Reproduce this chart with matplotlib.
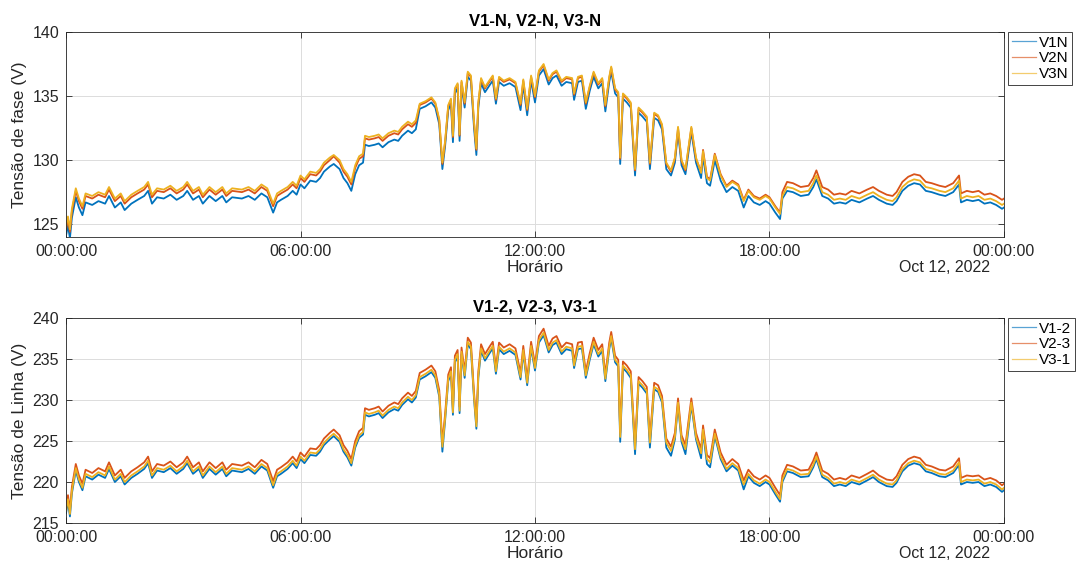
import matplotlib

matplotlib.use("Agg")
import matplotlib.pyplot as plt  # noqa: E402
from matplotlib.lines import Line2D  # noqa: E402

# Time of day in hours (Oct 12, 2022), shared by every trace.
hours = [
    0.00, 0.05, 0.10, 0.15, 0.25, 0.33, 0.42, 0.50, 0.67, 0.83,
    1.00, 1.10, 1.25, 1.40, 1.50, 1.67, 1.83, 2.00, 2.10, 2.20,
    2.33, 2.50, 2.67, 2.83, 3.00, 3.10, 3.25, 3.40, 3.50, 3.67,
    3.83, 4.00, 4.10, 4.25, 4.50, 4.67, 4.83, 5.00, 5.15, 5.30,
    5.40, 5.50, 5.67, 5.80, 5.90, 6.00, 6.10, 6.25, 6.40, 6.50,
    6.60, 6.75, 6.85, 7.00, 7.10, 7.20, 7.30, 7.40, 7.50, 7.60,
    7.65, 7.75, 7.90, 8.00, 8.10, 8.25, 8.40, 8.50, 8.60, 8.75,
    8.85, 8.95, 9.05, 9.20, 9.35, 9.45, 9.55, 9.63, 9.70, 9.78,
    9.85, 9.90, 9.95, 10.02, 10.07, 10.12, 10.20, 10.28, 10.36, 10.44,
    10.50, 10.55, 10.62, 10.72, 10.85, 10.92, 11.00, 11.08, 11.20, 11.35,
    11.50, 11.63, 11.70, 11.80, 11.90, 12.00, 12.10, 12.22, 12.35, 12.45,
    12.55, 12.68, 12.80, 12.95, 13.00, 13.10, 13.20, 13.30, 13.40, 13.50,
    13.62, 13.72, 13.80, 13.90, 13.95, 14.05, 14.13, 14.18, 14.25, 14.35,
    14.45, 14.56, 14.65, 14.75, 14.86, 14.94, 15.05, 15.15, 15.25, 15.36,
    15.48, 15.58, 15.66, 15.75, 15.85, 16.00, 16.12, 16.25, 16.30, 16.40,
    16.48, 16.60, 16.75, 16.90, 17.05, 17.20, 17.34, 17.46, 17.60, 17.75,
    17.90, 18.00, 18.15, 18.27, 18.33, 18.45, 18.60, 18.80, 19.00, 19.12,
    19.20, 19.35, 19.50, 19.65, 19.80, 19.95, 20.10, 20.30, 20.50, 20.65,
    20.80, 21.00, 21.15, 21.25, 21.40, 21.55, 21.70, 21.85, 22.00, 22.15,
    22.35, 22.50, 22.70, 22.85, 22.90, 23.05, 23.20, 23.35, 23.50, 23.65,
    23.80, 23.95, 24.00,
]

# Phase-to-neutral voltages (V)
v1n = [
    124.1, 124.9, 123.9, 125.5, 127.1, 126.3, 125.7, 126.7, 126.5, 126.8,
    126.6, 127.2, 126.3, 126.7, 126.1, 126.6, 126.9, 127.2, 127.6, 126.6,
    127.1, 127.0, 127.3, 126.9, 127.2, 127.6, 126.9, 127.2, 126.6, 127.2,
    126.8, 127.2, 126.7, 127.1, 127.0, 127.2, 126.9, 127.4, 127.1, 125.9,
    126.7, 126.9, 127.2, 127.6, 127.3, 128.1, 127.8, 128.4, 128.3, 128.6,
    129.1, 129.5, 129.7, 129.3, 128.6, 128.2, 127.6, 128.9, 129.6, 129.8,
    131.2, 131.1, 131.2, 131.3, 131.0, 131.4, 131.6, 131.5, 131.9, 132.3,
    132.1, 132.4, 134.0, 134.2, 134.5, 134.1, 132.8, 129.3, 131.1, 133.9,
    134.4, 131.4, 135.2, 135.6, 131.5, 135.8, 134.1, 136.5, 136.2, 132.5,
    130.4, 134.1, 136.0, 135.3, 135.9, 136.2, 134.4, 136.1, 135.8, 136.0,
    135.7, 133.9, 135.9, 133.5, 136.2, 134.5, 136.6, 137.1, 135.9, 136.4,
    136.6, 135.8, 136.1, 136.0, 134.7, 136.1, 136.2, 134.0, 135.4, 136.5,
    135.6, 136.0, 133.8, 136.1, 136.9, 135.2, 134.9, 129.7, 134.8, 134.5,
    134.1, 128.8, 133.7, 133.4, 133.0, 129.3, 133.3, 133.1, 132.4, 129.3,
    128.8, 129.8, 132.2, 129.6, 128.9, 132.2, 129.8, 128.6, 130.3, 128.2,
    128.0, 130.0, 128.4, 127.5, 127.9, 127.6, 126.3, 127.2, 126.7, 126.5,
    126.8, 126.6, 125.9, 125.4, 127.0, 127.6, 127.5, 127.2, 127.3, 127.9,
    128.5, 127.2, 127.0, 126.6, 126.7, 126.6, 126.9, 126.7, 127.0, 127.2,
    126.9, 126.6, 126.5, 126.8, 127.6, 128.0, 128.2, 128.1, 127.6, 127.5,
    127.3, 127.2, 127.5, 128.1, 126.7, 126.9, 126.8, 126.9, 126.6, 126.7,
    126.5, 126.2, 126.3,
]
v2n = [
    124.6, 125.4, 124.4, 126.0, 127.6, 126.8, 126.2, 127.2, 127.0, 127.3,
    127.1, 127.7, 126.8, 127.2, 126.6, 127.1, 127.4, 127.7, 128.1, 127.1,
    127.6, 127.5, 127.8, 127.4, 127.7, 128.1, 127.4, 127.7, 127.1, 127.7,
    127.3, 127.7, 127.2, 127.6, 127.5, 127.7, 127.4, 127.9, 127.6, 126.4,
    127.2, 127.4, 127.7, 128.1, 127.8, 128.6, 128.3, 128.9, 128.8, 129.1,
    129.6, 130.0, 130.3, 129.8, 129.1, 128.7, 128.1, 129.4, 130.1, 130.3,
    131.7, 131.6, 131.7, 131.8, 131.5, 131.9, 132.1, 132.0, 132.4, 132.8,
    132.6, 132.9, 134.3, 134.5, 134.8, 134.4, 133.1, 129.7, 131.4, 134.2,
    134.7, 131.8, 135.5, 135.9, 131.9, 136.1, 134.4, 136.8, 136.5, 132.9,
    130.8, 134.4, 136.3, 135.6, 136.2, 136.5, 134.7, 136.4, 136.1, 136.3,
    136.0, 134.3, 136.2, 133.9, 136.5, 134.9, 136.9, 137.4, 136.2, 136.7,
    136.9, 136.1, 136.4, 136.3, 135.1, 136.4, 136.5, 134.4, 135.7, 136.8,
    135.9, 136.3, 134.2, 136.4, 137.2, 135.5, 135.2, 130.1, 135.1, 134.8,
    134.4, 129.2, 134.0, 133.7, 133.3, 129.7, 133.6, 133.4, 132.7, 129.7,
    129.1, 130.1, 132.5, 129.9, 129.2, 132.5, 130.1, 129.1, 130.8, 128.7,
    128.5, 130.5, 128.9, 128.0, 128.4, 128.1, 126.9, 127.7, 127.2, 127.0,
    127.3, 127.1, 126.4, 125.9, 127.5, 128.3, 128.2, 127.9, 128.0, 128.6,
    129.2, 127.9, 127.7, 127.3, 127.4, 127.3, 127.6, 127.4, 127.7, 127.9,
    127.6, 127.3, 127.2, 127.5, 128.3, 128.7, 128.9, 128.8, 128.3, 128.2,
    128.0, 127.9, 128.2, 128.8, 127.4, 127.6, 127.5, 127.6, 127.3, 127.4,
    127.2, 126.9, 127.0,
]
v3n = [
    124.8, 125.6, 124.6, 126.2, 127.8, 127.0, 126.4, 127.4, 127.2, 127.5,
    127.3, 127.9, 127.0, 127.4, 126.8, 127.3, 127.6, 127.9, 128.3, 127.3,
    127.8, 127.7, 128.0, 127.6, 127.9, 128.3, 127.6, 127.9, 127.3, 127.9,
    127.5, 127.9, 127.4, 127.8, 127.7, 127.9, 127.6, 128.1, 127.8, 126.6,
    127.4, 127.6, 127.9, 128.3, 128.0, 128.8, 128.5, 129.1, 129.0, 129.3,
    129.8, 130.2, 130.4, 130.0, 129.3, 128.9, 128.3, 129.6, 130.3, 130.5,
    131.9, 131.8, 131.9, 132.0, 131.7, 132.1, 132.3, 132.2, 132.6, 133.0,
    132.8, 133.1, 134.4, 134.6, 134.9, 134.5, 133.2, 129.8, 131.5, 134.3,
    134.8, 131.9, 135.6, 136.0, 132.0, 136.2, 134.5, 136.9, 136.6, 133.0,
    130.9, 134.5, 136.4, 135.7, 136.3, 136.6, 134.8, 136.5, 136.2, 136.4,
    136.1, 134.4, 136.3, 134.0, 136.6, 135.0, 137.0, 137.5, 136.3, 136.8,
    137.0, 136.2, 136.5, 136.4, 135.2, 136.5, 136.6, 134.5, 135.8, 136.9,
    136.0, 136.4, 134.3, 136.5, 137.3, 135.6, 135.3, 130.2, 135.2, 134.9,
    134.5, 129.3, 134.1, 133.8, 133.4, 129.8, 133.7, 133.5, 132.8, 129.8,
    129.2, 130.2, 132.6, 130.0, 129.3, 132.6, 130.2, 129.0, 130.7, 128.6,
    128.4, 130.4, 128.8, 127.9, 128.3, 128.0, 126.8, 127.6, 127.1, 126.9,
    127.2, 127.0, 126.3, 125.8, 127.2, 127.9, 127.8, 127.5, 127.6, 128.2,
    128.8, 127.5, 127.3, 126.9, 127.0, 126.9, 127.2, 127.0, 127.3, 127.5,
    127.2, 126.9, 126.8, 127.1, 127.9, 128.3, 128.5, 128.4, 127.9, 127.8,
    127.6, 127.5, 127.8, 128.4, 127.0, 127.2, 127.1, 127.2, 126.9, 127.0,
    126.8, 126.5, 126.6,
]

# Line-to-line voltages (V)
v12 = [
    216.2, 217.6, 215.8, 218.6, 221.4, 220.0, 219.0, 220.7, 220.3, 220.9,
    220.5, 221.6, 220.0, 220.7, 219.7, 220.5, 221.0, 221.6, 222.3, 220.5,
    221.4, 221.2, 221.7, 221.0, 221.6, 222.3, 221.0, 221.6, 220.5, 221.6,
    220.9, 221.6, 220.7, 221.4, 221.2, 221.6, 221.0, 221.9, 221.4, 219.3,
    220.7, 221.0, 221.6, 222.3, 221.7, 222.8, 222.3, 223.3, 223.2, 223.7,
    224.5, 225.2, 225.6, 224.9, 223.7, 223.0, 222.0, 224.2, 225.4, 225.8,
    228.2, 228.0, 228.2, 228.4, 227.8, 228.5, 228.9, 228.7, 229.4, 230.1,
    229.7, 230.3, 232.5, 232.9, 233.4, 232.7, 230.4, 223.7, 227.5, 232.3,
    233.2, 228.2, 234.6, 235.3, 228.4, 235.6, 232.7, 236.8, 236.2, 230.1,
    226.5, 232.7, 236.0, 234.8, 235.8, 236.3, 233.2, 236.2, 235.6, 236.0,
    235.5, 232.5, 235.8, 231.8, 236.3, 233.6, 237.0, 237.9, 235.8, 236.7,
    237.0, 235.6, 236.2, 236.0, 233.9, 236.2, 236.3, 232.7, 234.9, 236.8,
    235.3, 236.0, 232.3, 236.2, 237.5, 234.6, 234.1, 224.9, 233.9, 233.4,
    232.7, 223.4, 232.0, 231.5, 230.8, 224.2, 231.3, 231.0, 229.7, 224.2,
    223.2, 225.2, 229.4, 224.9, 223.4, 229.4, 225.2, 222.9, 226.1, 222.2,
    221.8, 225.6, 222.8, 221.3, 222.0, 221.4, 219.1, 220.7, 219.9, 219.5,
    220.0, 219.7, 218.5, 217.6, 220.0, 221.3, 221.1, 220.6, 220.7, 221.8,
    222.8, 220.6, 220.2, 219.5, 219.7, 219.5, 220.0, 219.7, 220.2, 220.6,
    220.0, 219.5, 219.4, 219.9, 221.3, 222.0, 222.3, 222.1, 221.3, 221.1,
    220.7, 220.6, 221.1, 222.1, 219.7, 220.0, 219.9, 220.0, 219.5, 219.7,
    219.4, 218.8, 219.0,
]
v23 = [
    217.0, 218.4, 216.6, 219.4, 222.2, 220.8, 219.8, 221.5, 221.1, 221.7,
    221.3, 222.4, 220.8, 221.5, 220.5, 221.3, 221.8, 222.4, 223.1, 221.3,
    222.2, 222.0, 222.5, 221.8, 222.4, 223.1, 221.8, 222.4, 221.3, 222.4,
    221.7, 222.4, 221.5, 222.2, 222.0, 222.4, 221.8, 222.7, 222.2, 220.1,
    221.5, 221.8, 222.4, 223.1, 222.5, 223.6, 223.1, 224.1, 224.0, 224.5,
    225.3, 226.0, 226.4, 225.7, 224.5, 223.8, 222.8, 225.0, 226.2, 226.6,
    229.0, 228.8, 229.0, 229.2, 228.6, 229.3, 229.7, 229.5, 230.2, 230.9,
    230.5, 231.1, 233.3, 233.7, 234.2, 233.5, 231.2, 224.8, 228.3, 233.1,
    234.0, 229.0, 235.4, 236.1, 229.2, 236.4, 233.5, 237.6, 237.0, 230.9,
    227.3, 233.5, 236.8, 235.6, 236.6, 237.1, 234.0, 237.0, 236.4, 236.8,
    236.3, 233.3, 236.6, 232.6, 237.1, 234.4, 237.8, 238.7, 236.6, 237.5,
    237.8, 236.4, 237.0, 236.8, 234.7, 237.0, 237.1, 233.5, 235.7, 237.6,
    236.1, 236.8, 233.1, 237.0, 238.3, 235.4, 234.9, 226.0, 234.7, 234.2,
    233.5, 224.5, 232.8, 232.3, 231.6, 225.3, 232.1, 231.8, 230.5, 225.3,
    224.3, 226.0, 230.2, 225.7, 224.5, 230.2, 226.0, 224.0, 226.9, 223.3,
    222.9, 226.4, 223.6, 222.1, 222.8, 222.2, 220.2, 221.5, 220.7, 220.3,
    220.8, 220.5, 219.3, 218.4, 220.8, 222.1, 221.9, 221.4, 221.5, 222.6,
    223.6, 221.4, 221.0, 220.3, 220.5, 220.3, 220.8, 220.5, 221.0, 221.4,
    220.8, 220.3, 220.2, 220.7, 222.1, 222.8, 223.1, 222.9, 222.1, 221.9,
    221.5, 221.4, 221.9, 222.9, 220.5, 220.8, 220.7, 220.8, 220.3, 220.5,
    220.2, 219.6, 219.8,
]
v31 = [
    216.5, 217.9, 216.1, 218.9, 221.7, 220.3, 219.3, 221.0, 220.6, 221.2,
    220.8, 221.9, 220.3, 221.0, 220.0, 220.8, 221.3, 221.9, 222.6, 220.8,
    221.7, 221.5, 222.0, 221.3, 221.9, 222.6, 221.3, 221.9, 220.8, 221.9,
    221.2, 221.9, 221.0, 221.7, 221.5, 221.9, 221.3, 222.2, 221.7, 219.6,
    221.0, 221.3, 221.9, 222.6, 222.0, 223.1, 222.6, 223.6, 223.5, 224.0,
    224.8, 225.5, 225.9, 225.2, 224.0, 223.3, 222.3, 224.5, 225.7, 226.1,
    228.5, 228.3, 228.5, 228.7, 228.1, 228.8, 229.2, 229.0, 229.7, 230.4,
    230.0, 230.6, 232.8, 233.2, 233.7, 233.0, 230.7, 224.3, 227.8, 232.6,
    233.5, 228.5, 234.9, 235.6, 228.7, 235.9, 233.0, 237.1, 236.5, 230.4,
    226.8, 233.0, 236.3, 235.1, 236.1, 236.6, 233.5, 236.5, 235.9, 236.3,
    235.8, 232.8, 236.1, 232.1, 236.6, 233.9, 237.3, 238.2, 236.1, 237.0,
    237.3, 235.9, 236.5, 236.3, 234.2, 236.5, 236.6, 233.0, 235.2, 237.1,
    235.6, 236.3, 232.6, 236.5, 237.8, 234.9, 234.4, 225.5, 234.2, 233.7,
    233.0, 224.0, 232.3, 231.8, 231.1, 224.8, 231.6, 231.3, 230.0, 224.8,
    223.8, 225.5, 229.7, 225.2, 224.0, 229.7, 225.5, 223.5, 226.4, 222.8,
    222.4, 225.9, 223.1, 221.6, 222.3, 221.7, 219.7, 221.0, 220.2, 219.8,
    220.3, 220.0, 218.8, 217.9, 220.3, 221.6, 221.4, 220.9, 221.0, 222.1,
    223.1, 220.9, 220.5, 219.8, 220.0, 219.8, 220.3, 220.0, 220.5, 220.9,
    220.3, 219.8, 219.7, 220.2, 221.6, 222.3, 222.6, 222.4, 221.6, 221.4,
    221.0, 220.9, 221.4, 222.4, 220.0, 220.3, 220.2, 220.3, 219.8, 220.0,
    219.7, 219.1, 219.3,
]

x_ticks = [0, 6, 12, 18, 24]
x_tick_labels = ["00:00:00", "06:00:00", "12:00:00", "18:00:00", "00:00:00"]
date_label = "Oct 12, 2022"

COLORS = ["#0072BD", "#D95319", "#EDB120"]
TEXT = "#262626"

plt.rcParams["font.family"] = ["Liberation Sans", "DejaVu Sans"]


def _style_axes(ax, yticks, ylim, ylabel, title, labels):
    ax.set_xlim(0, 24)
    ax.set_ylim(*ylim)
    ax.set_xticks(x_ticks)
    ax.set_xticklabels(x_tick_labels)
    ax.set_yticks(yticks)
    ax.tick_params(direction="in", length=4, width=0.6, colors=TEXT,
                   labelsize=11.5, top=True, right=True, pad=5)
    for s in ax.spines.values():
        s.set_color(TEXT)
        s.set_linewidth(0.6)
    ax.grid(True, color="#dcdcdc", linewidth=0.7)
    ax.set_axisbelow(True)
    ax.set_ylabel(ylabel, fontsize=12.5, color=TEXT, labelpad=4)
    ax.set_xlabel("Horário", fontsize=12.5, color=TEXT, labelpad=1)
    ax.set_title(title, fontsize=12, fontweight="bold", color="black", pad=5)
    ax.text(0.985, -0.112, date_label, transform=ax.transAxes, ha="right",
            va="top", fontsize=11.5, color=TEXT)
    # thin, light legend keys like the default MATLAB look
    handles = [Line2D([], [], color=c, linewidth=0.9, alpha=0.65) for c in COLORS]
    leg = ax.legend(handles, labels, loc="upper left",
                    bbox_to_anchor=(1.004, 1.0), borderaxespad=0,
                    fontsize=11, handlelength=1.6, handletextpad=0.2,
                    borderpad=0.25, labelspacing=0.1, fancybox=False,
                    framealpha=1)
    leg.get_frame().set_edgecolor(TEXT)
    leg.get_frame().set_linewidth(0.6)


fig = plt.figure(figsize=(10.77, 5.69), dpi=100)
ax1 = fig.add_axes([0.0613, 0.5835, 0.8709, 0.3603])
ax2 = fig.add_axes([0.0613, 0.0808, 0.8709, 0.3603])

for series, color in zip([v1n, v2n, v3n], COLORS):
    ax1.plot(hours, series, color=color, linewidth=1.3)
_style_axes(ax1, [125, 130, 135, 140], (124, 140), "Tensão de fase (V)",
            "V1-N, V2-N, V3-N", ["V1N", "V2N", "V3N"])

for series, color in zip([v12, v23, v31], COLORS):
    ax2.plot(hours, series, color=color, linewidth=1.3)
_style_axes(ax2, [215, 220, 225, 230, 235, 240], (215, 240),
            "Tensão de Linha (V)", "V1-2, V2-3, V3-1", ["V1-2", "V2-3", "V3-1"])

fig.savefig("out.png", dpi=100)
